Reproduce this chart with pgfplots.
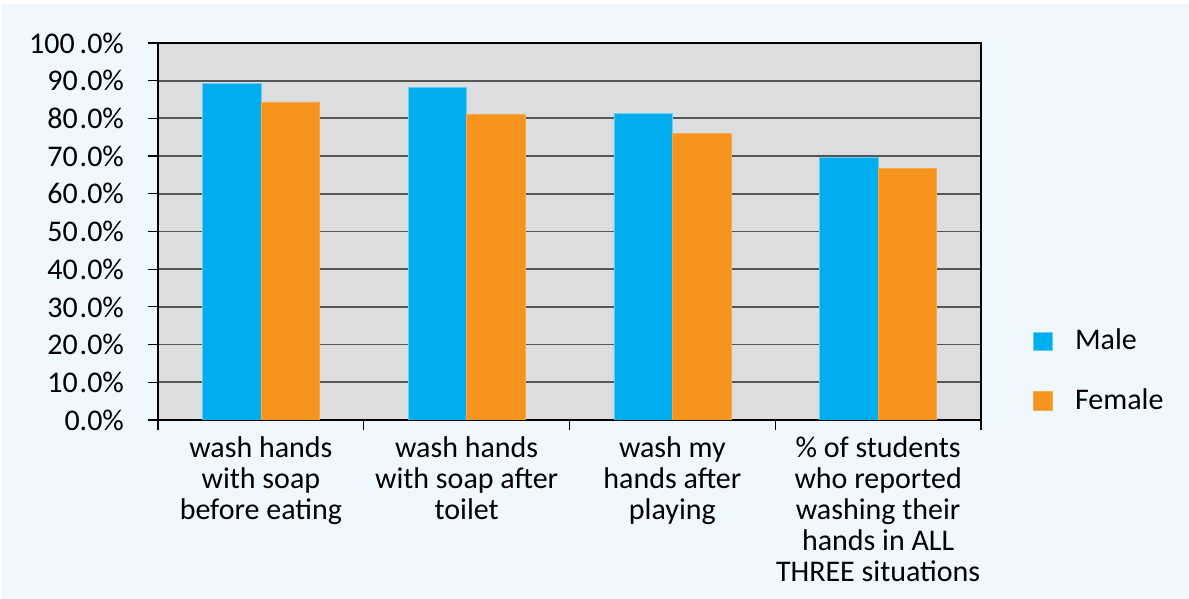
\documentclass[border=0pt]{standalone}
\usepackage{pgfplots}
\pgfplotsset{compat=1.18}
\usepackage{fontspec}
\setmainfont{Carlito}
\definecolor{bgblue}{RGB}{240,248,255}
\definecolor{plotgray}{RGB}{220,221,223}
\definecolor{male}{RGB}{0,174,239}
\definecolor{female}{RGB}{247,148,30}
\definecolor{gridc}{RGB}{85,85,85}
\begin{document}
\begin{tikzpicture}
\fill[white] (0,0) rectangle (594.5pt,299.5pt);
\fill[bgblue] (1pt,0pt) rectangle (594.5pt,297.5pt);
\begin{axis}[
  at={(79pt,89.5pt)}, anchor=south west,
  scale only axis, width=411.5pt, height=188.5pt,
  axis background/.style={fill=plotgray},
  axis line style={black, line width=0.8pt},
  ybar=0pt, bar width=29.25pt,
  xmin=-0.5, xmax=3.5, ymin=0, ymax=100,
  xtick={0,1,2,3},
  xtick pos=bottom, ytick pos=left,
  major x tick style={draw=none},
  minor xtick={-0.5,0.5,1.5,2.5,3.5},
  minor x tick style={black, line width=0.6pt},
  minor tick length=5pt,
  ytick={0,10,...,100},
  major tick length=5pt,
  y tick style={black, line width=0.6pt},
  tick align=outside,
  ymajorgrids,
  grid style={gridc, line width=0.9pt},
  yticklabels={0.0\%,10\kern1pt.0\%,20\kern1pt.0\%,30\kern1pt.0\%,40\kern1pt.0\%,50\kern1pt.0\%,60\kern1pt.0\%,70\kern1pt.0\%,80\kern1pt.0\%,90\kern1pt.0\%,100\kern2.5pt.0\%},
  xticklabels={
    {wash hands\\with soap\\before eating},
    {wash hands\\with soap after\\toilet},
    {wash my\\hands after\\playing},
    {\% of students\\who reported\\washing their\\hands in ALL\\THREE situations}},
  xticklabel style={align=center, anchor=north, font=\fontsize{15}{15.5}\selectfont, yshift=0pt},
  yticklabel style={font=\fontsize{15}{15}\selectfont, xshift=-8.5pt},
  legend style={at={(1,0.13)}, anchor=west, xshift=26pt, draw=none, fill=none,
    font=\fontsize{15}{15}\selectfont, row sep=14pt, inner sep=0pt},
  legend cell align=left,
  legend image code/.code={\fill[#1] (0pt,-4.6pt) rectangle (9.5pt,4.6pt);},
  /tikz/every even column/.append style={column sep=0pt},
]
\addplot[fill=male, draw=male!60!white, line width=0.3pt] coordinates {(0,89.3) (1,88.2) (2,81.3) (3,69.6)};
\addplot[fill=female, draw=female!80!white, line width=0.3pt] coordinates {(0,84.4) (1,81.1) (2,76.1) (3,66.7)};
\legend{\hspace{9pt}Male,\hspace{9pt}Female}
\end{axis}
\end{tikzpicture}
\end{document}
